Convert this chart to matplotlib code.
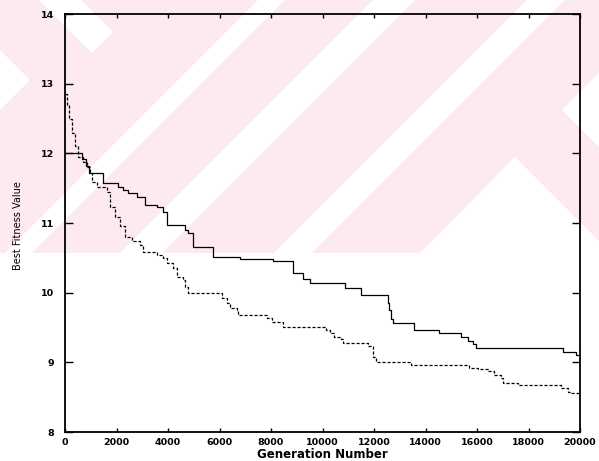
import matplotlib
matplotlib.use("Agg")
import matplotlib.pyplot as plt
from matplotlib.patches import Polygon, Rectangle

# step data: (generation, best fitness) from that generation on
solid_gen = [0, 660, 800, 950, 1480, 2060, 2260, 2450, 2800, 3110, 3580, 3810, 3970,
             4670, 4790, 4980, 5760, 6810, 8090, 8870, 9260, 9530, 10890, 11480,
             12530, 12570, 12650, 12720, 13540, 14510, 15370, 15640, 15840, 15950,
             19340, 19840, 20000]
solid_val = [12.0, 11.92, 11.82, 11.72, 11.57, 11.52, 11.47, 11.43, 11.37, 11.26, 11.23,
             11.16, 10.97, 10.90, 10.86, 10.66, 10.51, 10.49, 10.45, 10.28, 10.20, 10.14,
             10.07, 9.97, 9.85, 9.75, 9.62, 9.56, 9.46, 9.42, 9.37, 9.31, 9.26, 9.21,
             9.15, 9.10, 9.10]

dashed_gen = [0, 80, 160, 270, 390, 500, 700, 860, 970, 1050, 1250, 1630, 1750, 1950,
              2140, 2330, 2610, 2920, 3040, 3580, 3810, 3970, 4200, 4360, 4590, 4670,
              4790, 6110, 6300, 6420, 6690, 6730, 7860, 8050, 8480, 10120, 10310, 10430,
              10700, 10780, 11750, 11950, 11980, 12060, 13420, 15680, 16030, 16420,
              16650, 16930, 17000, 17590, 19260, 19530, 19650, 20000]
dashed_val = [12.85, 12.7, 12.5, 12.29, 12.1, 11.95, 11.88, 11.80, 11.72, 11.59, 11.52,
              11.45, 11.23, 11.09, 10.95, 10.80, 10.74, 10.68, 10.58, 10.54, 10.50, 10.42,
              10.36, 10.23, 10.18, 10.08, 10.00, 9.93, 9.85, 9.78, 9.75, 9.68, 9.64, 9.58,
              9.51, 9.46, 9.42, 9.36, 9.34, 9.28, 9.23, 9.15, 9.08, 9.00, 8.96, 8.92,
              8.90, 8.87, 8.82, 8.78, 8.70, 8.67, 8.63, 8.57, 8.56, 8.56]

x_ticks = list(range(0, 20001, 2000))
y_ticks = [8, 9, 10, 11, 12, 13, 14]

W, H = 599, 461
fig = plt.figure(figsize=(W / 100, H / 100), dpi=100)

# scanned watermark behind the chart (pixel coordinates, y down)
bg = fig.add_axes([0, 0, 1, 1], zorder=0)
bg.axis("off")
pink = "#fdeaee"
bg.add_patch(Rectangle((0, 0), W, 253, color=pink, lw=0))
white_bits = [
    [(258, 0), (285, 0), (32, 253), (5, 253)],
    [(373, 0), (415, 0), (162, 253), (120, 253)],
    [(527, 0), (565, 0), (312, 253), (274, 253)],
    [(420, 253), (515, 157), (611, 253)],
    [(562, 110), (599, 73), (599, 147)],
    [(39, 0), (81, 0), (113, 32), (92, 53)],
    [(0, 50), (30, 80), (0, 110)],
]
for pts in white_bits:
    bg.add_patch(Polygon(pts, closed=True, color="white", lw=0))
bg.set_xlim(0, W)
bg.set_ylim(H, 0)

ax = fig.add_axes([65 / W, 1 - 432 / H, (580 - 65) / W, (432 - 14) / H], zorder=1)
ax.set_facecolor("none")

ax.step(solid_gen, solid_val, where="post", color="black", lw=0.9)
ax.step(dashed_gen, dashed_val, where="post", color="black", lw=0.9,
        linestyle=(0, (2.5, 1.5)))

ax.set_xlim(0, 20000)
ax.set_ylim(8, 14)
ax.set_xticks(x_ticks)
ax.set_yticks(y_ticks)
ax.tick_params(axis="both", direction="in", top=True, right=True, width=1.0,
               labelsize=6.8, colors="black")
ax.tick_params(axis="y", length=6, pad=8)
ax.tick_params(axis="x", length=3, pad=4)
for lab in ax.get_xticklabels() + ax.get_yticklabels():
    lab.set_fontweight("bold")
for sp in ax.spines.values():
    sp.set_linewidth(1.3)

ax.set_xlabel("Generation Number", fontsize=8.5, fontweight="bold", labelpad=1)
fig.text(18 / W, 1 - 226 / H, "Best Fitness Value", rotation=90, ha="center",
         va="center", fontsize=7, family=["Liberation Sans Narrow", "DejaVu Sans"])

fig.savefig("out.png", dpi=100)
